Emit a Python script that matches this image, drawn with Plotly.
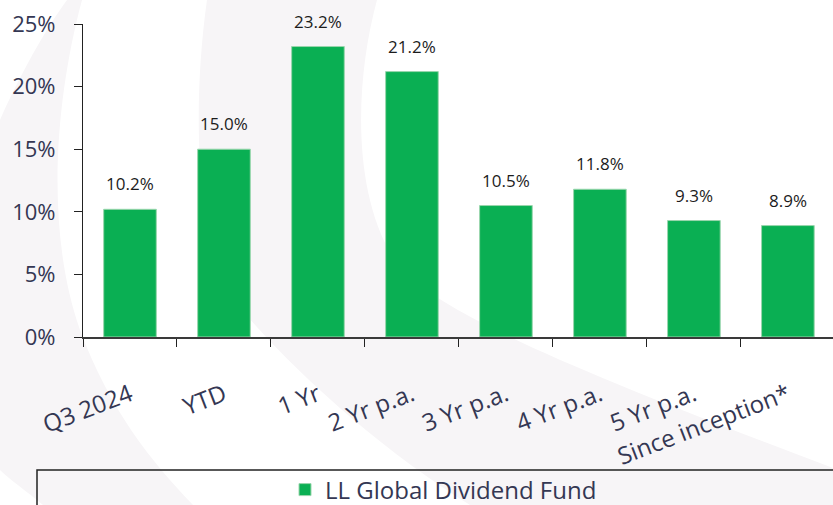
import plotly.graph_objects as go

categories = ["Q3 2024", "YTD", "1 Yr", "2 Yr p.a.", "3 Yr p.a.", "4 Yr p.a.", "5 Yr p.a.", "Since inception*"]
values = [10.2, 15.0, 23.2, 21.2, 10.5, 11.8, 9.3, 8.9]
series_name = "LL Global Dividend Fund"
y_ticks = [0, 5, 10, 15, 20, 25]
y_tick_labels = ["0%", "5%", "10%", "15%", "20%", "25%"]

W, H = 833, 505
L, T, B = 83, 24, 168
PW = W - L
PH = H - T - B
FONT = "Open Sans"
TXT = "#343753"
GREEN = "#0aaf53"
WM = "#f7f5f7"


def px(x, y):
    return f"{(x - L) / PW:.4f},{(H - B - y) / PH:.4f}"


def path(cmds):
    out = []
    for c in cmds:
        op = c[0]
        pts = c[1:]
        out.append(op + " ".join(px(*p) for p in pts))
    return " ".join(out) + " Z"


wm1 = path([
    ("M", (67, 0)), ("L", (82, 0)),
    ("C", (55, 100), (45, 230), (80, 330)),
    ("C", (110, 410), (150, 460), (193, 505)),
    ("L", (43, 505)),
    ("C", (25, 490), (10, 480), (0, 470)),
    ("L", (0, 120)),
    ("C", (20, 75), (45, 30), (67, 0)),
])
wm2 = path([
    ("M", (207, 0)), ("L", (377, 0)),
    ("C", (355, 80), (350, 200), (400, 268)),
    ("C", (450, 320), (600, 380), (833, 468)),
    ("L", (833, 505)), ("L", (470, 505)),
    ("C", (380, 450), (280, 360), (230, 295)),
    ("C", (200, 250), (190, 120), (207, 0)),
])

fig = go.Figure()
fig.add_trace(go.Bar(
    x=categories, y=values, name=series_name,
    marker=dict(color=GREEN, line=dict(color="#9ad6ad", width=1)),
    width=0.56, showlegend=True, hoverinfo="skip",
))

for c, v in zip(categories, values):
    fig.add_annotation(
        x=c, y=v, text=f"{v:.1f}%", showarrow=False,
        yanchor="bottom", yshift=12,
        font=dict(family=FONT, size=17, color="#1c1c1c"),
    )

shapes = [
    dict(type="path", path=wm1, xref="paper", yref="paper", fillcolor=WM,
         line=dict(width=0), layer="below"),
    dict(type="path", path=wm2, xref="paper", yref="paper", fillcolor=WM,
         line=dict(width=0), layer="below"),
    dict(type="rect", xref="paper", yref="paper",
         x0=(37 - L) / PW, x1=(840 - L) / PW,
         y0=(H - B - 470) / PH, y1=(H - B - 520) / PH,
         line=dict(color="#222222", width=1.5), fillcolor="rgba(0,0,0,0)", layer="above"),
]

fig.update_layout(
    width=W, height=H, autosize=False,
    margin=dict(l=L, r=0, t=T, b=B, pad=0, autoexpand=False),
    paper_bgcolor="white", plot_bgcolor="rgba(0,0,0,0)",
    font=dict(family=FONT, color=TXT),
    shapes=shapes,
    bargap=0.44,
    showlegend=True,
    legend=dict(
        orientation="h", xref="container", yref="container",
        x=285 / W, xanchor="left", y=1 - 490 / H, yanchor="middle",
        font=dict(family=FONT, size=24, color=TXT),
        bgcolor="rgba(0,0,0,0)", borderwidth=0,
    ),
    xaxis=dict(
        type="category", range=[-0.5, 7.48], automargin=False,
        showline=True, linecolor="#3a3a3a", linewidth=1.5,
        ticks="outside", tickson="boundaries", ticklen=8, tickcolor="#222222", tickwidth=1.2,
        tickangle=-21, tickfont=dict(family=FONT, size=24, color=TXT),
        showgrid=False, zeroline=False, ticklabelstandoff=33,
    ),
    yaxis=dict(
        range=[0, 25], tickvals=y_ticks, ticktext=y_tick_labels, automargin=False,
        showline=True, linecolor="#222222", linewidth=1.2,
        ticks="outside", ticklen=8, tickcolor="#222222", tickwidth=1.2,
        tickfont=dict(family=FONT, size=22, color=TXT),
        showgrid=False, zeroline=False, ticklabelstandoff=14,
    ),
)

fig.write_html("out.html")
